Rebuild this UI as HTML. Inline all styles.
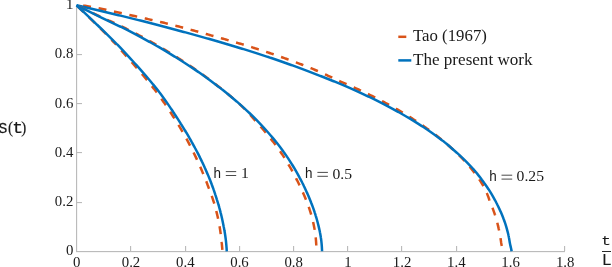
<!DOCTYPE html>
<html><head><meta charset="utf-8">
<style>
html,body{margin:0;padding:0;background:#fff;}
body{width:612px;height:267px;overflow:hidden;position:relative;}
svg{position:absolute;left:0;top:0;transform:translateZ(0);will-change:transform;}
text{font-family:"Liberation Serif",serif;fill:#1a1a1a;}
.tk{font-size:14.8px;fill:#262626;}
.sf{font-family:"Liberation Sans",sans-serif;font-size:14.5px;}
.mf{font-family:"Liberation Mono",monospace;}
.dg{font-size:14.8px;}
.lg{font-size:16px;}
</style></head><body>
<svg width="612" height="267" viewBox="0 0 612 267">
<g fill="#bbbbbb">
<rect x="76" y="5" width="1.15" height="247"/>
<rect x="76" y="251" width="489" height="1.15"/>
<rect x="77" y="5" width="5" height="1.1"/><rect x="77" y="54" width="5" height="1.1"/><rect x="77" y="103" width="5" height="1.1"/><rect x="77" y="152" width="5" height="1.1"/><rect x="77" y="202" width="5" height="1.1"/>
<rect x="130" y="246" width="1.15" height="5"/><rect x="185" y="246" width="1.15" height="5"/><rect x="239" y="246" width="1.15" height="5"/><rect x="293" y="246" width="1.15" height="5"/><rect x="347" y="246" width="1.15" height="5"/><rect x="401" y="246" width="1.15" height="5"/><rect x="456" y="246" width="1.15" height="5"/><rect x="510" y="246" width="1.15" height="5"/><rect x="564" y="246" width="1.15" height="5"/>
</g>
<g fill="none" stroke-width="2.5" stroke-linejoin="round">
<path d="M76.50,5.30 L77.73,5.34 L78.97,5.39 L80.20,5.44 L81.43,5.52 L82.67,5.60 L83.90,5.71 L85.14,5.85 L86.37,6.01 L87.60,6.20 L88.84,6.40 L90.07,6.61 L91.30,6.82 L92.54,7.04 L93.77,7.27 L95.00,7.50 L96.24,7.74 L97.47,7.98 L98.70,8.23 L99.94,8.48 L101.17,8.74 L102.41,8.99 L103.64,9.26 L104.87,9.52 L106.11,9.79 L107.34,10.06 L108.57,10.33 L109.81,10.61 L111.04,10.89 L112.27,11.16 L113.51,11.44 L114.74,11.72 L115.98,11.99 L117.21,12.27 L118.44,12.54 L119.68,12.81 L120.91,13.08 L122.14,13.35 L123.38,13.62 L124.61,13.89 L125.84,14.16 L127.08,14.43 L128.31,14.70 L129.54,14.97 L130.78,15.24 L132.01,15.51 L133.25,15.78 L134.48,16.06 L135.71,16.33 L136.95,16.60 L138.18,16.88 L139.41,17.15 L140.65,17.43 L141.88,17.70 L143.11,17.98 L144.35,18.26 L145.58,18.54 L146.82,18.82 L148.05,19.10 L149.28,19.38 L150.52,19.66 L151.75,19.95 L152.98,20.23 L154.22,20.52 L155.45,20.80 L156.68,21.09 L157.92,21.37 L159.15,21.66 L160.38,21.95 L161.62,22.25 L162.85,22.55 L164.09,22.84 L165.32,23.15 L166.55,23.45 L167.79,23.76 L169.02,24.06 L170.25,24.37 L171.49,24.68 L172.72,24.99 L173.95,25.30 L175.19,25.62 L176.42,25.93 L177.66,26.25 L178.89,26.57 L180.12,26.90 L181.36,27.23 L182.59,27.55 L183.82,27.88 L185.06,28.21 L186.29,28.54 L187.52,28.88 L188.76,29.21 L189.99,29.54 L191.22,29.88 L192.46,30.22 L193.69,30.55 L194.93,30.89 L196.16,31.23 L197.39,31.57 L198.63,31.91 L199.86,32.25 L201.09,32.59 L202.33,32.93 L203.56,33.28 L204.79,33.62 L206.03,33.97 L207.26,34.31 L208.50,34.66 L209.73,35.00 L210.96,35.35 L212.20,35.69 L213.43,36.04 L214.66,36.38 L215.90,36.73 L217.13,37.08 L218.36,37.42 L219.60,37.77 L220.83,38.12 L222.06,38.47 L223.30,38.81 L224.53,39.16 L225.77,39.51 L227.00,39.87 L228.23,40.22 L229.47,40.57 L230.70,40.92 L231.93,41.28 L233.17,41.64 L234.40,41.99 L235.63,42.35 L236.87,42.71 L238.10,43.08 L239.34,43.44 L240.57,43.81 L241.80,44.17 L243.04,44.54 L244.27,44.91 L245.50,45.29 L246.74,45.66 L247.97,46.04 L249.20,46.42 L250.44,46.80 L251.67,47.18 L252.91,47.57 L254.14,47.96 L255.37,48.35 L256.61,48.75 L257.84,49.14 L259.07,49.54 L260.31,49.94 L261.54,50.34 L262.77,50.75 L264.01,51.15 L265.24,51.56 L266.47,51.97 L267.71,52.38 L268.94,52.79 L270.18,53.20 L271.41,53.62 L272.64,54.04 L273.88,54.46 L275.11,54.88 L276.34,55.31 L277.58,55.74 L278.81,56.17 L280.04,56.60 L281.28,57.03 L282.51,57.47 L283.75,57.90 L284.98,58.34 L286.21,58.78 L287.45,59.23 L288.68,59.67 L289.91,60.12 L291.15,60.57 L292.38,61.02 L293.61,61.48 L294.85,61.93 L296.08,62.40 L297.31,62.86 L298.55,63.33 L299.78,63.80 L301.02,64.28 L302.25,64.76 L303.48,65.24 L304.72,65.73 L305.95,66.21 L307.18,66.71 L308.42,67.20 L309.65,67.70 L310.88,68.20 L312.12,68.70 L313.35,69.21 L314.59,69.72 L315.82,70.24 L317.05,70.77 L318.29,71.31 L319.52,71.86 L320.75,72.41 L321.99,72.97 L323.22,73.53 L324.45,74.09 L325.69,74.66 L326.92,75.22 L328.15,75.78 L329.39,76.34 L330.62,76.91 L331.86,77.48 L333.09,78.06 L334.32,78.64 L335.56,79.23 L336.79,79.81 L338.02,80.39 L339.26,80.96 L340.49,81.52 L341.72,82.07 L342.96,82.61 L344.19,83.14 L345.43,83.68 L346.66,84.21 L347.89,84.75 L349.13,85.29 L350.36,85.84 L351.59,86.39 L352.83,86.94 L354.06,87.49 L355.29,88.05 L356.53,88.62 L357.76,89.18 L358.99,89.75 L360.23,90.32 L361.46,90.90 L362.70,91.48 L363.93,92.06 L365.16,92.64 L366.40,93.23 L367.63,93.83 L368.86,94.42 L370.10,95.03 L371.33,95.63 L372.56,96.24 L373.80,96.86 L375.03,97.48 L376.27,98.11 L377.50,98.74 L378.73,99.38 L379.97,100.02 L381.20,100.66 L382.43,101.31 L383.67,101.97 L384.90,102.63 L386.13,103.29 L387.37,103.96 L388.60,104.63 L389.83,105.30 L391.07,105.98 L392.30,106.67 L393.54,107.36 L394.77,108.06 L396.00,108.76 L397.24,109.46 L398.47,110.17 L399.70,110.89 L400.94,111.61 L402.17,112.34 L403.40,113.08 L404.64,113.82 L405.87,114.56 L407.11,115.32 L408.34,116.08 L409.57,116.85 L410.81,117.62 L412.04,118.41 L413.27,119.20 L414.51,120.00 L415.74,120.82 L416.97,121.64 L418.21,122.46 L419.44,123.30 L420.67,124.15 L421.91,125.00 L423.14,125.86 L424.38,126.72 L425.61,127.60 L426.84,128.48 L428.08,129.36 L429.31,130.26 L430.54,131.16 L431.78,132.07 L433.01,132.99 L434.24,133.92 L435.48,134.86 L436.71,135.81 L437.95,136.77 L439.18,137.74 L440.41,138.72 L441.65,139.71 L442.88,140.71 L444.11,141.75 L445.35,142.81 L445.94,143.34 L446.52,143.83 L447.09,144.32 L447.66,144.82 L448.22,145.31 L448.78,145.80 L449.34,146.29 L449.89,146.79 L450.44,147.28 L450.98,147.77 L451.53,148.27 L452.07,148.76 L452.61,149.25 L453.16,149.74 L453.70,150.24 L454.24,150.73 L454.78,151.22 L455.31,151.72 L455.84,152.21 L456.37,152.70 L456.89,153.20 L457.41,153.69 L457.93,154.18 L458.44,154.67 L458.95,155.17 L459.45,155.66 L459.95,156.15 L460.45,156.65 L460.95,157.14 L461.44,157.63 L461.93,158.13 L462.41,158.62 L462.89,159.11 L463.36,159.60 L463.82,160.10 L464.28,160.59 L464.73,161.08 L465.18,161.58 L465.63,162.07 L466.06,162.56 L466.50,163.06 L466.93,163.55 L467.36,164.04 L467.78,164.53 L468.20,165.03 L468.62,165.52 L469.04,166.01 L469.45,166.51 L469.86,167.00 L470.27,167.49 L470.67,167.99 L471.08,168.48 L471.48,168.97 L471.88,169.46 L472.28,169.96 L472.68,170.45 L473.08,170.94 L473.47,171.44 L473.85,171.93 L474.24,172.42 L474.61,172.92 L474.99,173.41 L475.36,173.90 L475.72,174.39 L476.08,174.89 L476.44,175.38 L476.80,175.87 L477.15,176.37 L477.50,176.86 L477.85,177.35 L478.19,177.85 L478.53,178.34 L478.87,178.83 L479.20,179.32 L479.54,179.82 L479.87,180.31 L480.20,180.80 L480.52,181.30 L480.85,181.79 L481.16,182.28 L481.47,182.77 L481.78,183.27 L482.08,183.76 L482.37,184.25 L482.66,184.75 L482.94,185.24 L483.22,185.73 L483.49,186.23 L483.76,186.72 L484.02,187.21 L484.28,187.70 L484.53,188.20 L484.78,188.69 L485.02,189.18 L485.26,189.68 L485.49,190.17 L485.72,190.66 L485.95,191.16 L486.17,191.65 L486.38,192.14 L486.60,192.63 L486.81,193.13 L487.01,193.62 L487.21,194.11 L487.41,194.61 L487.61,195.10 L487.81,195.59 L488.00,196.09 L488.19,196.58 L488.38,197.07 L488.57,197.56 L488.74,198.06 L488.90,198.55 L489.06,199.04 L489.22,199.54 L489.39,200.03 L489.57,200.52 L489.76,201.02 L489.95,201.51 L490.15,202.00 L490.35,202.49 L490.54,202.99 L490.74,203.48 L490.94,203.97 L491.13,204.47 L491.33,204.96 L491.52,205.45 L491.72,205.95 L491.91,206.44 L492.10,206.93 L492.30,207.42 L492.49,207.92 L492.68,208.41 L492.86,208.90 L493.05,209.40 L493.24,209.89 L493.42,210.38 L493.60,210.88 L493.78,211.37 L493.96,211.86 L494.14,212.35 L494.32,212.85 L494.49,213.34 L494.66,213.83 L494.82,214.33 L494.99,214.82 L495.15,215.31 L495.31,215.81 L495.47,216.30 L495.62,216.79 L495.77,217.28 L495.92,217.78 L496.07,218.27 L496.21,218.76 L496.35,219.26 L496.49,219.75 L496.63,220.24 L496.76,220.73 L496.90,221.23 L497.03,221.72 L497.16,222.21 L497.28,222.71 L497.41,223.20 L497.53,223.69 L497.65,224.19 L497.77,224.68 L497.88,225.17 L498.00,225.66 L498.11,226.16 L498.23,226.65 L498.34,227.14 L498.45,227.64 L498.56,228.13 L498.67,228.62 L498.77,229.12 L498.88,229.61 L498.98,230.10 L499.09,230.59 L499.19,231.09 L499.30,231.58 L499.40,232.07 L499.50,232.57 L499.60,233.06 L499.70,233.55 L499.80,234.05 L499.89,234.54 L499.98,235.03 L500.07,235.52 L500.16,236.02 L500.25,236.51 L500.34,237.00 L500.42,237.50 L500.50,237.99 L500.57,238.48 L500.65,238.98 L500.72,239.47 L500.79,239.96 L500.86,240.45 L500.92,240.95 L500.98,241.44 L501.05,241.93 L501.12,242.43 L501.20,242.92 L501.28,243.41 L501.37,243.91 L501.46,244.40 L501.55,244.89 L501.64,245.38 L501.73,245.88 L501.83,246.37 L501.93,246.86 L502.02,247.36 L502.12,247.85 L502.22,248.34 L502.31,248.84 L502.40,249.33 L502.50,249.82 L502.59,250.31 L502.67,250.81 L502.76,251.30" stroke="#D95319" stroke-dasharray="8 7.75" stroke-dashoffset="9.2"/>
<path d="M76.50,5.30 L78.67,5.79 L80.83,6.29 L82.98,6.78 L85.13,7.27 L87.26,7.76 L89.40,8.26 L91.52,8.75 L93.64,9.24 L95.75,9.74 L97.85,10.23 L99.94,10.72 L102.03,11.22 L104.11,11.71 L106.19,12.20 L108.25,12.69 L110.31,13.19 L112.37,13.68 L114.41,14.17 L116.45,14.67 L118.49,15.16 L120.51,15.65 L122.53,16.15 L124.54,16.64 L126.55,17.13 L128.55,17.62 L130.54,18.12 L132.52,18.61 L134.50,19.10 L136.47,19.60 L138.44,20.09 L140.40,20.58 L142.35,21.08 L144.30,21.57 L146.24,22.06 L148.17,22.55 L150.09,23.05 L152.01,23.54 L153.93,24.03 L155.84,24.53 L157.74,25.02 L159.63,25.51 L161.52,26.01 L163.40,26.50 L165.28,26.99 L167.15,27.48 L169.01,27.98 L170.87,28.47 L172.72,28.96 L174.57,29.46 L176.41,29.95 L178.24,30.44 L180.07,30.94 L181.89,31.43 L183.71,31.92 L185.53,32.41 L187.33,32.91 L189.14,33.40 L190.93,33.89 L192.72,34.39 L194.51,34.88 L196.29,35.37 L198.06,35.87 L199.83,36.36 L201.59,36.85 L203.35,37.34 L205.10,37.84 L206.84,38.33 L208.58,38.82 L210.31,39.32 L212.04,39.81 L213.76,40.30 L215.47,40.79 L217.18,41.29 L218.88,41.78 L220.58,42.27 L222.27,42.77 L223.95,43.26 L225.63,43.75 L227.30,44.25 L228.96,44.74 L230.62,45.23 L232.27,45.72 L233.91,46.22 L235.55,46.71 L237.18,47.20 L238.80,47.70 L240.42,48.19 L242.03,48.68 L243.63,49.18 L245.23,49.67 L246.82,50.16 L248.40,50.65 L249.98,51.15 L251.55,51.64 L253.11,52.13 L254.66,52.63 L256.21,53.12 L257.75,53.61 L259.28,54.11 L260.80,54.60 L262.32,55.09 L263.83,55.58 L265.33,56.08 L266.83,56.57 L268.32,57.06 L269.79,57.56 L271.27,58.05 L272.73,58.54 L274.19,59.04 L275.64,59.53 L277.08,60.02 L278.51,60.51 L279.94,61.01 L281.36,61.50 L282.77,61.99 L284.18,62.49 L285.58,62.98 L286.98,63.47 L288.36,63.97 L289.75,64.46 L291.12,64.95 L292.49,65.44 L293.86,65.94 L295.21,66.43 L296.57,66.92 L297.91,67.42 L299.25,67.91 L300.59,68.40 L301.92,68.90 L303.24,69.39 L304.56,69.88 L305.87,70.37 L307.18,70.87 L308.48,71.36 L309.78,71.85 L311.07,72.35 L312.35,72.84 L313.63,73.33 L314.91,73.83 L316.18,74.32 L317.45,74.81 L318.71,75.30 L319.97,75.80 L321.23,76.29 L322.48,76.78 L323.73,77.28 L324.98,77.77 L326.23,78.26 L327.47,78.75 L328.71,79.25 L329.95,79.74 L331.18,80.23 L332.40,80.73 L333.62,81.22 L334.84,81.71 L336.05,82.21 L337.26,82.70 L338.46,83.19 L339.65,83.68 L340.84,84.18 L342.03,84.67 L343.20,85.16 L344.37,85.66 L345.53,86.15 L346.69,86.64 L347.84,87.14 L348.98,87.63 L350.11,88.12 L351.23,88.61 L352.35,89.11 L353.45,89.60 L354.55,90.09 L355.64,90.59 L356.73,91.08 L357.81,91.57 L358.89,92.07 L359.96,92.56 L361.03,93.05 L362.09,93.54 L363.15,94.04 L364.20,94.53 L365.24,95.02 L366.29,95.52 L367.32,96.01 L368.36,96.50 L369.38,97.00 L370.40,97.49 L371.42,97.98 L372.43,98.47 L373.44,98.97 L374.45,99.46 L375.44,99.95 L376.44,100.45 L377.43,100.94 L378.41,101.43 L379.39,101.93 L380.36,102.42 L381.33,102.91 L382.30,103.40 L383.26,103.90 L384.21,104.39 L385.17,104.88 L386.11,105.38 L387.05,105.87 L387.99,106.36 L388.92,106.86 L389.85,107.35 L390.77,107.84 L391.69,108.33 L392.61,108.83 L393.52,109.32 L394.42,109.81 L395.32,110.31 L396.22,110.80 L397.11,111.29 L398.00,111.78 L398.88,112.28 L399.76,112.77 L400.63,113.26 L401.50,113.76 L402.37,114.25 L403.23,114.74 L404.08,115.24 L404.94,115.73 L405.78,116.22 L406.63,116.71 L407.46,117.21 L408.30,117.70 L409.13,118.19 L409.96,118.69 L410.78,119.18 L411.59,119.67 L412.41,120.17 L413.22,120.66 L414.02,121.15 L414.82,121.64 L415.62,122.14 L416.41,122.63 L417.20,123.12 L417.98,123.62 L418.76,124.11 L419.53,124.60 L420.31,125.10 L421.07,125.59 L421.84,126.08 L422.60,126.57 L423.35,127.07 L424.10,127.56 L424.85,128.05 L425.59,128.55 L426.33,129.04 L427.07,129.53 L427.80,130.03 L428.52,130.52 L429.25,131.01 L429.96,131.50 L430.68,132.00 L431.39,132.49 L432.10,132.98 L432.80,133.48 L433.50,133.97 L434.20,134.46 L434.89,134.96 L435.58,135.45 L436.26,135.94 L436.94,136.43 L437.62,136.93 L438.29,137.42 L438.96,137.91 L439.62,138.41 L440.28,138.90 L440.94,139.39 L441.59,139.89 L442.24,140.38 L442.88,140.87 L443.51,141.36 L444.13,141.86 L444.74,142.35 L445.35,142.84 L445.95,143.34 L446.54,143.83 L447.13,144.32 L447.71,144.82 L448.29,145.31 L448.86,145.80 L449.43,146.29 L450.00,146.79 L450.57,147.28 L451.13,147.77 L451.70,148.27 L452.26,148.76 L452.83,149.25 L453.39,149.74 L453.96,150.24 L454.52,150.73 L455.09,151.22 L455.65,151.72 L456.20,152.21 L456.76,152.70 L457.31,153.20 L457.85,153.69 L458.40,154.18 L458.94,154.67 L459.47,155.17 L460.01,155.66 L460.54,156.15 L461.07,156.65 L461.59,157.14 L462.12,157.63 L462.64,158.13 L463.15,158.62 L463.66,159.11 L464.17,159.60 L464.68,160.10 L465.18,160.59 L465.68,161.08 L466.18,161.58 L466.67,162.07 L467.16,162.56 L467.64,163.06 L468.13,163.55 L468.60,164.04 L469.08,164.53 L469.55,165.03 L470.02,165.52 L470.49,166.01 L470.95,166.51 L471.41,167.00 L471.86,167.49 L472.31,167.99 L472.76,168.48 L473.20,168.97 L473.64,169.46 L474.08,169.96 L474.51,170.45 L474.94,170.94 L475.36,171.44 L475.77,171.93 L476.18,172.42 L476.58,172.92 L476.98,173.41 L477.37,173.90 L477.76,174.39 L478.14,174.89 L478.52,175.38 L478.90,175.87 L479.28,176.37 L479.65,176.86 L480.02,177.35 L480.39,177.85 L480.75,178.34 L481.12,178.83 L481.49,179.32 L481.85,179.82 L482.22,180.31 L482.58,180.80 L482.95,181.30 L483.31,181.79 L483.68,182.28 L484.04,182.77 L484.39,183.27 L484.75,183.76 L485.10,184.25 L485.46,184.75 L485.81,185.24 L486.15,185.73 L486.50,186.23 L486.84,186.72 L487.18,187.21 L487.51,187.70 L487.84,188.20 L488.17,188.69 L488.50,189.18 L488.82,189.68 L489.14,190.17 L489.46,190.66 L489.77,191.16 L490.08,191.65 L490.39,192.14 L490.69,192.63 L490.99,193.13 L491.29,193.62 L491.58,194.11 L491.88,194.61 L492.17,195.10 L492.45,195.59 L492.74,196.09 L493.02,196.58 L493.30,197.07 L493.57,197.56 L493.85,198.06 L494.12,198.55 L494.39,199.04 L494.66,199.54 L494.93,200.03 L495.20,200.52 L495.46,201.02 L495.72,201.51 L495.98,202.00 L496.24,202.49 L496.49,202.99 L496.75,203.48 L497.00,203.97 L497.24,204.47 L497.49,204.96 L497.73,205.45 L497.98,205.95 L498.21,206.44 L498.45,206.93 L498.69,207.42 L498.92,207.92 L499.15,208.41 L499.38,208.90 L499.61,209.40 L499.83,209.89 L500.06,210.38 L500.28,210.88 L500.50,211.37 L500.71,211.86 L500.93,212.35 L501.14,212.85 L501.35,213.34 L501.56,213.83 L501.77,214.33 L501.97,214.82 L502.18,215.31 L502.38,215.81 L502.58,216.30 L502.77,216.79 L502.97,217.28 L503.16,217.78 L503.35,218.27 L503.54,218.76 L503.72,219.26 L503.91,219.75 L504.09,220.24 L504.26,220.73 L504.44,221.23 L504.61,221.72 L504.78,222.21 L504.95,222.71 L505.12,223.20 L505.28,223.69 L505.44,224.19 L505.60,224.68 L505.75,225.17 L505.91,225.66 L506.06,226.16 L506.21,226.65 L506.35,227.14 L506.50,227.64 L506.64,228.13 L506.78,228.62 L506.92,229.12 L507.05,229.61 L507.19,230.10 L507.32,230.59 L507.45,231.09 L507.58,231.58 L507.70,232.07 L507.83,232.57 L507.95,233.06 L508.06,233.55 L508.18,234.05 L508.29,234.54 L508.40,235.03 L508.51,235.52 L508.61,236.02 L508.72,236.51 L508.82,237.00 L508.91,237.50 L509.01,237.99 L509.10,238.48 L509.19,238.98 L509.27,239.47 L509.36,239.96 L509.44,240.45 L509.52,240.95 L509.60,241.44 L509.68,241.93 L509.77,242.43 L509.86,242.92 L509.96,243.41 L510.06,243.91 L510.16,244.40 L510.26,244.89 L510.37,245.38 L510.48,245.88 L510.59,246.37 L510.70,246.86 L510.81,247.36 L510.92,247.85 L511.03,248.34 L511.14,248.84 L511.25,249.33 L511.36,249.82 L511.46,250.31 L511.56,250.81 L511.66,251.30" stroke="#0072BD"/>
<path d="M76.50,5.30 L77.03,5.55 L77.56,5.81 L78.09,6.06 L78.62,6.32 L79.15,6.57 L79.68,6.82 L80.21,7.08 L80.74,7.33 L81.27,7.58 L81.80,7.83 L82.33,8.09 L82.86,8.34 L83.39,8.59 L83.92,8.84 L84.45,9.09 L84.98,9.35 L85.51,9.60 L86.04,9.85 L86.56,10.10 L87.09,10.35 L87.62,10.60 L88.15,10.85 L88.68,11.10 L89.21,11.35 L89.74,11.60 L90.27,11.85 L90.80,12.10 L91.33,12.35 L91.86,12.60 L92.39,12.85 L92.92,13.10 L93.45,13.36 L93.98,13.61 L94.51,13.86 L95.04,14.11 L95.57,14.36 L96.10,14.61 L96.63,14.86 L97.16,15.11 L97.69,15.36 L98.22,15.61 L98.75,15.86 L99.28,16.11 L99.81,16.36 L100.34,16.61 L100.87,16.85 L101.40,17.10 L101.93,17.35 L102.46,17.59 L102.99,17.84 L103.52,18.09 L104.05,18.33 L104.58,18.58 L105.11,18.82 L105.63,19.06 L106.16,19.31 L106.69,19.55 L107.22,19.79 L107.75,20.04 L108.28,20.28 L108.81,20.52 L109.34,20.77 L109.87,21.01 L110.40,21.25 L110.93,21.50 L111.46,21.74 L111.99,21.98 L112.52,22.23 L113.05,22.47 L113.58,22.72 L114.11,22.96 L114.64,23.21 L115.17,23.45 L115.70,23.70 L116.23,23.94 L116.76,24.19 L117.29,24.44 L117.82,24.68 L118.35,24.93 L118.88,25.18 L119.41,25.43 L119.94,25.68 L120.47,25.93 L121.00,26.18 L121.53,26.43 L122.06,26.68 L122.59,26.94 L123.12,27.19 L123.65,27.45 L124.18,27.70 L124.71,27.96 L125.23,28.22 L125.76,28.48 L126.29,28.74 L126.82,29.00 L127.35,29.26 L127.88,29.53 L128.41,29.79 L128.94,30.06 L129.47,30.33 L130.00,30.60 L130.53,30.87 L131.06,31.14 L131.59,31.41 L132.12,31.68 L132.65,31.95 L133.18,32.23 L133.71,32.50 L134.24,32.77 L134.77,33.05 L135.30,33.32 L135.83,33.60 L136.36,33.88 L136.89,34.16 L137.42,34.43 L137.95,34.71 L138.48,34.99 L139.01,35.27 L139.54,35.55 L140.07,35.84 L140.60,36.12 L141.13,36.40 L141.66,36.68 L142.19,36.97 L142.72,37.25 L143.25,37.54 L143.78,37.83 L144.30,38.11 L144.83,38.40 L145.36,38.69 L145.89,38.98 L146.42,39.27 L146.95,39.56 L147.48,39.85 L148.01,40.14 L148.54,40.43 L149.07,40.72 L149.60,41.01 L150.13,41.31 L150.66,41.60 L151.19,41.90 L151.72,42.19 L152.25,42.49 L152.78,42.79 L153.31,43.09 L153.84,43.38 L154.37,43.68 L154.90,43.98 L155.43,44.28 L155.96,44.58 L156.49,44.89 L157.02,45.19 L157.55,45.49 L158.08,45.80 L158.61,46.10 L159.14,46.41 L159.67,46.72 L160.20,47.03 L160.73,47.34 L161.26,47.65 L161.79,47.96 L162.32,48.27 L162.85,48.59 L163.37,48.90 L163.90,49.22 L164.43,49.54 L164.96,49.86 L165.49,50.18 L166.02,50.50 L166.55,50.82 L167.08,51.14 L167.61,51.46 L168.14,51.79 L168.67,52.11 L169.20,52.44 L169.73,52.77 L170.26,53.09 L170.79,53.42 L171.32,53.75 L171.85,54.08 L172.38,54.41 L172.91,54.75 L173.44,55.08 L173.97,55.41 L174.50,55.75 L175.03,56.08 L175.56,56.42 L176.09,56.75 L176.62,57.09 L177.15,57.42 L177.68,57.76 L178.21,58.10 L178.74,58.44 L179.27,58.78 L179.80,59.12 L180.33,59.46 L180.86,59.80 L181.39,60.14 L181.92,60.48 L182.45,60.82 L182.97,61.16 L183.50,61.51 L184.03,61.85 L184.56,62.20 L185.09,62.55 L185.62,62.89 L186.15,63.24 L186.68,63.59 L187.21,63.94 L187.74,64.29 L188.27,64.65 L188.80,65.00 L189.33,65.36 L189.86,65.71 L190.39,66.07 L190.92,66.43 L191.45,66.78 L191.98,67.14 L192.51,67.50 L193.04,67.87 L193.57,68.23 L194.10,68.59 L194.63,68.96 L195.16,69.32 L195.69,69.69 L196.22,70.06 L196.75,70.43 L197.28,70.80 L197.81,71.17 L198.34,71.54 L198.87,71.91 L199.40,72.29 L199.93,72.66 L200.46,73.04 L200.99,73.42 L201.52,73.79 L202.04,74.17 L202.57,74.55 L203.10,74.94 L203.63,75.32 L204.16,75.70 L204.69,76.09 L205.22,76.47 L205.75,76.86 L206.28,77.25 L206.81,77.64 L207.34,78.03 L207.87,78.42 L208.40,78.81 L208.93,79.20 L209.46,79.60 L209.99,79.99 L210.52,80.39 L211.05,80.79 L211.58,81.19 L212.11,81.59 L212.64,81.99 L213.17,82.39 L213.70,82.79 L214.23,83.20 L214.76,83.60 L215.29,84.01 L215.82,84.42 L216.35,84.83 L216.88,85.24 L217.41,85.65 L217.94,86.06 L218.47,86.48 L219.00,86.89 L219.53,87.31 L220.06,87.72 L220.59,88.14 L221.12,88.56 L221.64,88.98 L222.17,89.41 L222.70,89.83 L223.23,90.25 L223.76,90.68 L224.29,91.11 L224.82,91.53 L225.35,91.96 L225.88,92.39 L226.41,92.83 L226.94,93.26 L227.47,93.69 L228.00,94.13 L228.53,94.57 L229.06,95.01 L229.59,95.45 L230.12,95.89 L230.65,96.33 L231.18,96.78 L231.71,97.23 L232.24,97.67 L232.77,98.12 L233.30,98.58 L233.83,99.03 L234.36,99.48 L234.89,99.94 L235.46,100.45 L236.02,100.94 L236.59,101.43 L237.14,101.93 L237.69,102.42 L238.24,102.91 L238.79,103.40 L239.33,103.90 L239.86,104.39 L240.39,104.88 L240.92,105.38 L241.44,105.87 L241.97,106.36 L242.48,106.86 L243.00,107.35 L243.51,107.84 L244.01,108.33 L244.52,108.83 L245.02,109.32 L245.52,109.81 L246.01,110.31 L246.50,110.80 L246.98,111.29 L247.44,111.78 L247.90,112.28 L248.36,112.77 L248.81,113.26 L249.25,113.76 L249.69,114.25 L250.12,114.74 L250.55,115.24 L250.98,115.73 L251.41,116.22 L251.83,116.71 L252.25,117.21 L252.68,117.70 L253.10,118.19 L253.53,118.69 L253.96,119.18 L254.39,119.67 L254.83,120.17 L255.27,120.66 L255.71,121.15 L256.16,121.64 L256.60,122.14 L257.04,122.63 L257.48,123.12 L257.92,123.62 L258.36,124.11 L258.80,124.60 L259.23,125.10 L259.67,125.59 L260.10,126.08 L260.53,126.57 L260.97,127.07 L261.39,127.56 L261.82,128.05 L262.25,128.55 L262.67,129.04 L263.10,129.53 L263.52,130.03 L263.94,130.52 L264.36,131.01 L264.78,131.50 L265.20,132.00 L265.61,132.49 L266.02,132.98 L266.44,133.48 L266.85,133.97 L267.25,134.46 L267.66,134.96 L268.07,135.45 L268.47,135.94 L268.87,136.43 L269.27,136.93 L269.67,137.42 L270.07,137.91 L270.46,138.41 L270.86,138.90 L271.25,139.39 L271.64,139.89 L272.03,140.38 L272.41,140.87 L272.80,141.36 L273.18,141.86 L273.56,142.35 L273.94,142.84 L274.31,143.34 L274.69,143.83 L275.06,144.32 L275.43,144.82 L275.80,145.31 L276.17,145.80 L276.53,146.29 L276.89,146.79 L277.25,147.28 L277.61,147.77 L277.97,148.27 L278.32,148.76 L278.67,149.25 L279.02,149.74 L279.37,150.24 L279.72,150.73 L280.06,151.22 L280.40,151.72 L280.74,152.21 L281.07,152.70 L281.41,153.20 L281.74,153.69 L282.07,154.18 L282.39,154.67 L282.72,155.17 L283.04,155.66 L283.36,156.15 L283.68,156.65 L284.00,157.14 L284.31,157.63 L284.62,158.13 L284.93,158.62 L285.24,159.11 L285.55,159.60 L285.85,160.10 L286.16,160.59 L286.46,161.08 L286.76,161.58 L287.06,162.07 L287.35,162.56 L287.65,163.06 L287.94,163.55 L288.23,164.04 L288.52,164.53 L288.81,165.03 L289.09,165.52 L289.38,166.01 L289.66,166.51 L289.94,167.00 L290.22,167.49 L290.50,167.99 L290.78,168.48 L291.06,168.97 L291.33,169.46 L291.61,169.96 L291.88,170.45 L292.15,170.94 L292.42,171.44 L292.69,171.93 L292.95,172.42 L293.22,172.92 L293.49,173.41 L293.75,173.90 L294.01,174.39 L294.27,174.89 L294.53,175.38 L294.79,175.87 L295.05,176.37 L295.31,176.86 L295.57,177.35 L295.82,177.85 L296.08,178.34 L296.33,178.83 L296.59,179.32 L296.84,179.82 L297.09,180.31 L297.34,180.80 L297.59,181.30 L297.84,181.79 L298.08,182.28 L298.33,182.77 L298.57,183.27 L298.81,183.76 L299.05,184.25 L299.29,184.75 L299.53,185.24 L299.77,185.73 L300.01,186.23 L300.24,186.72 L300.48,187.21 L300.71,187.70 L300.94,188.20 L301.17,188.69 L301.40,189.18 L301.63,189.68 L301.85,190.17 L302.07,190.66 L302.30,191.16 L302.52,191.65 L302.74,192.14 L302.96,192.63 L303.17,193.13 L303.39,193.62 L303.61,194.11 L303.82,194.61 L304.03,195.10 L304.24,195.59 L304.45,196.09 L304.66,196.58 L304.87,197.07 L305.07,197.56 L305.28,198.06 L305.48,198.55 L305.69,199.04 L305.89,199.54 L306.09,200.03 L306.29,200.52 L306.49,201.02 L306.69,201.51 L306.88,202.00 L307.08,202.49 L307.27,202.99 L307.46,203.48 L307.64,203.97 L307.83,204.47 L308.01,204.96 L308.19,205.45 L308.37,205.95 L308.55,206.44 L308.72,206.93 L308.89,207.42 L309.06,207.92 L309.23,208.41 L309.40,208.90 L309.56,209.40 L309.73,209.89 L309.89,210.38 L310.04,210.88 L310.20,211.37 L310.36,211.86 L310.51,212.35 L310.66,212.85 L310.81,213.34 L310.95,213.83 L311.10,214.33 L311.24,214.82 L311.38,215.31 L311.52,215.81 L311.66,216.30 L311.79,216.79 L311.93,217.28 L312.06,217.78 L312.19,218.27 L312.31,218.76 L312.44,219.26 L312.56,219.75 L312.68,220.24 L312.80,220.73 L312.92,221.23 L313.04,221.72 L313.15,222.21 L313.27,222.71 L313.38,223.20 L313.48,223.69 L313.59,224.19 L313.69,224.68 L313.80,225.17 L313.90,225.66 L314.00,226.16 L314.09,226.65 L314.19,227.14 L314.28,227.64 L314.37,228.13 L314.46,228.62 L314.54,229.12 L314.63,229.61 L314.71,230.10 L314.79,230.59 L314.87,231.09 L314.94,231.58 L315.02,232.07 L315.09,232.57 L315.16,233.06 L315.23,233.55 L315.29,234.05 L315.36,234.54 L315.42,235.03 L315.48,235.52 L315.54,236.02 L315.59,236.51 L315.65,237.00 L315.70,237.50 L315.75,237.99 L315.80,238.48 L315.84,238.98 L315.89,239.47 L315.93,239.96 L315.97,240.45 L316.01,240.95 L316.05,241.44 L316.08,241.93 L316.11,242.43 L316.14,242.92 L316.17,243.41 L316.20,243.91 L316.22,244.40 L316.24,244.89 L316.26,245.38 L316.28,245.88 L316.30,246.37 L316.31,246.86 L316.32,247.36 L316.33,247.85 L316.34,248.34 L316.35,248.84 L316.35,249.33 L316.36,249.82 L316.36,250.31 L316.36,250.81 L316.35,251.30" stroke="#D95319" stroke-dasharray="8 7.7" stroke-dashoffset="13.2"/>
<path d="M76.50,5.30 L77.48,5.79 L78.46,6.29 L79.44,6.78 L80.42,7.27 L81.41,7.76 L82.40,8.26 L83.39,8.75 L84.38,9.24 L85.37,9.74 L86.37,10.23 L87.36,10.72 L88.36,11.22 L89.36,11.71 L90.36,12.20 L91.36,12.69 L92.36,13.19 L93.37,13.68 L94.37,14.17 L95.37,14.67 L96.38,15.16 L97.38,15.65 L98.39,16.15 L99.40,16.64 L100.41,17.13 L101.43,17.62 L102.46,18.12 L103.48,18.61 L104.52,19.10 L105.55,19.60 L106.59,20.09 L107.63,20.58 L108.67,21.08 L109.72,21.57 L110.76,22.06 L111.80,22.55 L112.85,23.05 L113.89,23.54 L114.93,24.03 L115.97,24.53 L117.00,25.02 L118.03,25.51 L119.06,26.01 L120.09,26.50 L121.11,26.99 L122.12,27.48 L123.13,27.98 L124.13,28.47 L125.13,28.96 L126.12,29.46 L127.10,29.95 L128.08,30.44 L129.04,30.94 L130.00,31.43 L130.95,31.92 L131.90,32.41 L132.85,32.91 L133.80,33.40 L134.74,33.89 L135.67,34.39 L136.61,34.88 L137.54,35.37 L138.47,35.87 L139.39,36.36 L140.31,36.85 L141.23,37.34 L142.15,37.84 L143.06,38.33 L143.97,38.82 L144.87,39.32 L145.78,39.81 L146.68,40.30 L147.57,40.79 L148.47,41.29 L149.36,41.78 L150.25,42.27 L151.14,42.77 L152.02,43.26 L152.90,43.75 L153.78,44.25 L154.66,44.74 L155.53,45.23 L156.40,45.72 L157.27,46.22 L158.14,46.71 L159.00,47.20 L159.85,47.70 L160.70,48.19 L161.55,48.68 L162.39,49.18 L163.23,49.67 L164.07,50.16 L164.90,50.65 L165.73,51.15 L166.55,51.64 L167.37,52.13 L168.19,52.63 L169.00,53.12 L169.82,53.61 L170.62,54.11 L171.43,54.60 L172.23,55.09 L173.03,55.58 L173.83,56.08 L174.63,56.57 L175.42,57.06 L176.21,57.56 L177.00,58.05 L177.79,58.54 L178.58,59.04 L179.36,59.53 L180.15,60.02 L180.93,60.51 L181.71,61.01 L182.49,61.50 L183.27,61.99 L184.04,62.49 L184.81,62.98 L185.58,63.47 L186.34,63.97 L187.10,64.46 L187.86,64.95 L188.61,65.44 L189.36,65.94 L190.11,66.43 L190.86,66.92 L191.60,67.42 L192.34,67.91 L193.08,68.40 L193.81,68.90 L194.54,69.39 L195.27,69.88 L195.99,70.37 L196.72,70.87 L197.43,71.36 L198.15,71.85 L198.86,72.35 L199.57,72.84 L200.28,73.33 L200.99,73.83 L201.69,74.32 L202.39,74.81 L203.09,75.30 L203.78,75.80 L204.47,76.29 L205.16,76.78 L205.85,77.28 L206.53,77.77 L207.21,78.26 L207.89,78.75 L208.57,79.25 L209.24,79.74 L209.91,80.23 L210.58,80.73 L211.25,81.22 L211.91,81.71 L212.57,82.21 L213.23,82.70 L213.88,83.19 L214.54,83.68 L215.19,84.18 L215.84,84.67 L216.49,85.16 L217.13,85.66 L217.77,86.15 L218.42,86.64 L219.05,87.14 L219.69,87.63 L220.32,88.12 L220.96,88.61 L221.59,89.11 L222.21,89.60 L222.84,90.09 L223.46,90.59 L224.09,91.08 L224.70,91.57 L225.32,92.07 L225.94,92.56 L226.55,93.05 L227.16,93.54 L227.77,94.04 L228.38,94.53 L228.98,95.02 L229.58,95.52 L230.18,96.01 L230.78,96.50 L231.37,97.00 L231.96,97.49 L232.55,97.98 L233.14,98.47 L233.72,98.97 L234.31,99.46 L234.89,99.95 L235.47,100.45 L236.04,100.94 L236.62,101.43 L237.19,101.93 L237.76,102.42 L238.32,102.91 L238.89,103.40 L239.45,103.90 L240.01,104.39 L240.56,104.88 L241.12,105.38 L241.67,105.87 L242.22,106.36 L242.77,106.86 L243.31,107.35 L243.86,107.84 L244.40,108.33 L244.94,108.83 L245.47,109.32 L246.01,109.81 L246.54,110.31 L247.07,110.80 L247.59,111.29 L248.12,111.78 L248.64,112.28 L249.16,112.77 L249.67,113.26 L250.19,113.76 L250.70,114.25 L251.21,114.74 L251.72,115.24 L252.22,115.73 L252.73,116.22 L253.23,116.71 L253.72,117.21 L254.22,117.70 L254.71,118.19 L255.20,118.69 L255.69,119.18 L256.18,119.67 L256.66,120.17 L257.14,120.66 L257.62,121.15 L258.10,121.64 L258.57,122.14 L259.05,122.63 L259.52,123.12 L259.99,123.62 L260.45,124.11 L260.92,124.60 L261.38,125.10 L261.84,125.59 L262.30,126.08 L262.76,126.57 L263.22,127.07 L263.67,127.56 L264.12,128.05 L264.57,128.55 L265.02,129.04 L265.47,129.53 L265.91,130.03 L266.36,130.52 L266.80,131.01 L267.24,131.50 L267.67,132.00 L268.11,132.49 L268.54,132.98 L268.97,133.48 L269.40,133.97 L269.83,134.46 L270.26,134.96 L270.68,135.45 L271.10,135.94 L271.52,136.43 L271.94,136.93 L272.35,137.42 L272.77,137.91 L273.18,138.41 L273.59,138.90 L274.00,139.39 L274.40,139.89 L274.80,140.38 L275.21,140.87 L275.61,141.36 L276.00,141.86 L276.40,142.35 L276.79,142.84 L277.18,143.34 L277.57,143.83 L277.96,144.32 L278.35,144.82 L278.73,145.31 L279.11,145.80 L279.49,146.29 L279.87,146.79 L280.24,147.28 L280.62,147.77 L280.99,148.27 L281.35,148.76 L281.72,149.25 L282.09,149.74 L282.45,150.24 L282.81,150.73 L283.17,151.22 L283.52,151.72 L283.88,152.21 L284.23,152.70 L284.58,153.20 L284.92,153.69 L285.27,154.18 L285.61,154.67 L285.95,155.17 L286.29,155.66 L286.63,156.15 L286.96,156.65 L287.30,157.14 L287.63,157.63 L287.96,158.13 L288.29,158.62 L288.61,159.11 L288.93,159.60 L289.26,160.10 L289.58,160.59 L289.89,161.08 L290.21,161.58 L290.52,162.07 L290.84,162.56 L291.15,163.06 L291.46,163.55 L291.76,164.04 L292.07,164.53 L292.37,165.03 L292.68,165.52 L292.98,166.01 L293.27,166.51 L293.57,167.00 L293.87,167.49 L294.16,167.99 L294.45,168.48 L294.75,168.97 L295.03,169.46 L295.32,169.96 L295.61,170.45 L295.89,170.94 L296.18,171.44 L296.46,171.93 L296.74,172.42 L297.02,172.92 L297.30,173.41 L297.57,173.90 L297.85,174.39 L298.12,174.89 L298.39,175.38 L298.66,175.87 L298.93,176.37 L299.20,176.86 L299.47,177.35 L299.73,177.85 L300.00,178.34 L300.26,178.83 L300.52,179.32 L300.78,179.82 L301.04,180.31 L301.30,180.80 L301.55,181.30 L301.80,181.79 L302.06,182.28 L302.31,182.77 L302.55,183.27 L302.80,183.76 L303.04,184.25 L303.29,184.75 L303.53,185.24 L303.77,185.73 L304.00,186.23 L304.24,186.72 L304.48,187.21 L304.71,187.70 L304.94,188.20 L305.17,188.69 L305.40,189.18 L305.63,189.68 L305.85,190.17 L306.07,190.66 L306.30,191.16 L306.52,191.65 L306.74,192.14 L306.96,192.63 L307.17,193.13 L307.39,193.62 L307.61,194.11 L307.82,194.61 L308.03,195.10 L308.24,195.59 L308.45,196.09 L308.66,196.58 L308.87,197.07 L309.07,197.56 L309.28,198.06 L309.48,198.55 L309.69,199.04 L309.89,199.54 L310.09,200.03 L310.29,200.52 L310.49,201.02 L310.69,201.51 L310.88,202.00 L311.08,202.49 L311.27,202.99 L311.47,203.48 L311.66,203.97 L311.85,204.47 L312.03,204.96 L312.22,205.45 L312.41,205.95 L312.59,206.44 L312.77,206.93 L312.95,207.42 L313.13,207.92 L313.31,208.41 L313.49,208.90 L313.66,209.40 L313.83,209.89 L314.00,210.38 L314.17,210.88 L314.34,211.37 L314.51,211.86 L314.67,212.35 L314.83,212.85 L315.00,213.34 L315.15,213.83 L315.31,214.33 L315.47,214.82 L315.62,215.31 L315.77,215.81 L315.93,216.30 L316.07,216.79 L316.22,217.28 L316.37,217.78 L316.51,218.27 L316.65,218.76 L316.79,219.26 L316.93,219.75 L317.06,220.24 L317.20,220.73 L317.33,221.23 L317.46,221.72 L317.59,222.21 L317.72,222.71 L317.85,223.20 L317.97,223.69 L318.10,224.19 L318.22,224.68 L318.34,225.17 L318.46,225.66 L318.58,226.16 L318.70,226.65 L318.82,227.14 L318.93,227.64 L319.04,228.13 L319.16,228.62 L319.27,229.12 L319.37,229.61 L319.48,230.10 L319.58,230.59 L319.69,231.09 L319.79,231.58 L319.89,232.07 L319.98,232.57 L320.08,233.06 L320.17,233.55 L320.26,234.05 L320.35,234.54 L320.44,235.03 L320.53,235.52 L320.61,236.02 L320.69,236.51 L320.77,237.00 L320.84,237.50 L320.92,237.99 L320.99,238.48 L321.06,238.98 L321.12,239.47 L321.19,239.96 L321.25,240.45 L321.31,240.95 L321.36,241.44 L321.42,241.93 L321.47,242.43 L321.52,242.92 L321.57,243.41 L321.61,243.91 L321.66,244.40 L321.70,244.89 L321.74,245.38 L321.78,245.88 L321.81,246.37 L321.85,246.86 L321.88,247.36 L321.91,247.85 L321.93,248.34 L321.96,248.84 L321.98,249.33 L322.00,249.82 L322.02,250.31 L322.04,250.81 L322.05,251.30" stroke="#0072BD"/>
<path d="M76.50,5.30 L76.62,5.42 L76.74,5.53 L76.86,5.65 L76.98,5.76 L77.10,5.88 L77.22,6.00 L77.34,6.11 L77.46,6.23 L77.59,6.34 L77.71,6.46 L77.83,6.58 L77.95,6.69 L78.07,6.81 L78.19,6.92 L78.31,7.04 L78.43,7.16 L78.55,7.27 L78.67,7.39 L78.79,7.50 L78.91,7.62 L79.03,7.74 L79.15,7.85 L79.27,7.97 L79.39,8.08 L79.51,8.20 L79.64,8.32 L79.76,8.43 L79.88,8.55 L80.00,8.67 L80.12,8.78 L80.24,8.90 L80.36,9.01 L80.48,9.13 L80.60,9.25 L80.72,9.36 L80.84,9.48 L80.96,9.59 L81.08,9.71 L81.20,9.83 L81.32,9.94 L81.44,10.06 L81.56,10.17 L81.69,10.29 L81.81,10.41 L81.93,10.52 L82.05,10.64 L82.17,10.76 L82.29,10.87 L82.41,10.99 L82.53,11.10 L82.65,11.22 L82.77,11.34 L82.89,11.45 L83.01,11.57 L83.13,11.68 L83.25,11.80 L83.37,11.92 L83.49,12.03 L83.61,12.15 L83.74,12.27 L83.86,12.38 L83.98,12.50 L84.10,12.61 L84.22,12.73 L84.34,12.85 L84.46,12.96 L84.58,13.08 L84.70,13.20 L84.82,13.31 L84.94,13.43 L85.06,13.54 L85.18,13.66 L85.30,13.78 L85.42,13.89 L85.54,14.01 L85.67,14.13 L85.79,14.24 L85.91,14.36 L86.03,14.48 L86.15,14.59 L86.27,14.71 L86.39,14.82 L86.51,14.94 L86.63,15.06 L86.75,15.17 L86.87,15.29 L86.99,15.41 L87.11,15.52 L87.23,15.64 L87.35,15.76 L87.47,15.87 L87.59,15.99 L87.72,16.11 L87.84,16.22 L87.96,16.34 L88.08,16.46 L88.20,16.57 L88.32,16.69 L88.44,16.81 L88.56,16.92 L88.68,17.04 L88.80,17.16 L88.92,17.27 L89.04,17.39 L89.16,17.51 L89.28,17.62 L89.40,17.74 L89.52,17.86 L89.64,17.97 L89.77,18.09 L89.89,18.21 L90.01,18.32 L90.13,18.44 L90.25,18.56 L90.37,18.67 L90.49,18.79 L90.61,18.91 L90.73,19.02 L90.85,19.14 L90.97,19.26 L91.09,19.37 L91.21,19.49 L91.33,19.61 L91.45,19.72 L91.57,19.84 L91.69,19.96 L91.82,20.07 L91.94,20.19 L92.06,20.31 L92.18,20.43 L92.30,20.54 L92.42,20.66 L92.54,20.78 L92.66,20.89 L92.78,21.01 L92.90,21.13 L93.02,21.25 L93.14,21.36 L93.26,21.48 L93.38,21.60 L93.50,21.71 L93.62,21.83 L93.74,21.95 L93.87,22.07 L93.99,22.18 L94.11,22.30 L94.23,22.42 L94.35,22.53 L94.47,22.65 L94.59,22.77 L94.71,22.89 L94.83,23.00 L94.95,23.12 L95.07,23.24 L95.19,23.36 L95.31,23.47 L95.43,23.59 L95.55,23.71 L95.67,23.83 L95.79,23.94 L95.92,24.06 L96.04,24.18 L96.16,24.30 L96.28,24.41 L96.40,24.53 L96.52,24.65 L96.64,24.77 L96.76,24.88 L96.88,25.00 L97.00,25.12 L97.12,25.24 L97.24,25.35 L97.36,25.47 L97.48,25.59 L97.60,25.71 L97.72,25.82 L97.84,25.94 L97.97,26.06 L98.09,26.18 L98.21,26.30 L98.33,26.41 L98.45,26.53 L98.57,26.65 L98.69,26.77 L98.81,26.88 L98.93,27.00 L99.05,27.12 L99.17,27.24 L99.29,27.36 L99.41,27.47 L99.53,27.59 L99.65,27.71 L99.77,27.83 L99.89,27.95 L100.02,28.07 L100.14,28.18 L100.26,28.30 L100.38,28.42 L100.50,28.54 L100.62,28.66 L100.74,28.77 L100.86,28.89 L100.98,29.01 L101.10,29.13 L101.22,29.25 L101.34,29.37 L101.46,29.49 L101.58,29.60 L101.70,29.72 L101.82,29.84 L101.94,29.96 L102.07,30.08 L102.19,30.20 L102.31,30.32 L102.43,30.43 L102.55,30.55 L102.67,30.67 L102.79,30.79 L102.91,30.91 L103.03,31.03 L103.15,31.15 L103.27,31.27 L103.39,31.39 L103.51,31.51 L103.63,31.63 L103.75,31.74 L103.87,31.86 L104.00,31.98 L104.12,32.10 L104.24,32.22 L104.36,32.34 L104.48,32.46 L104.60,32.58 L104.72,32.70 L104.84,32.82 L104.96,32.94 L105.08,33.05 L105.20,33.17 L105.32,33.29 L105.44,33.41 L105.56,33.53 L105.68,33.65 L105.80,33.77 L105.92,33.89 L106.05,34.01 L106.17,34.13 L106.29,34.25 L106.41,34.37 L106.53,34.48 L106.65,34.60 L106.77,34.72 L106.89,34.84 L107.01,34.96 L107.13,35.08 L107.25,35.20 L107.37,35.32 L107.49,35.44 L107.61,35.56 L107.73,35.68 L107.85,35.80 L107.97,35.92 L108.10,36.04 L108.22,36.16 L108.34,36.28 L108.46,36.39 L108.58,36.51 L108.70,36.63 L108.82,36.75 L108.94,36.87 L109.06,36.99 L109.18,37.11 L109.30,37.23 L109.42,37.35 L109.54,37.47 L109.66,37.59 L109.78,37.71 L109.90,37.83 L110.02,37.95 L110.15,38.07 L110.27,38.19 L110.39,38.31 L110.51,38.43 L110.63,38.55 L110.75,38.67 L110.87,38.79 L110.99,38.91 L111.11,39.03 L111.23,39.15 L111.35,39.27 L111.47,39.39 L111.59,39.52 L111.71,39.64 L111.83,39.76 L111.95,39.88 L112.07,40.00 L112.20,40.12 L112.32,40.24 L112.44,40.36 L112.56,40.48 L112.04,40.30 L112.50,40.79 L112.97,41.29 L113.43,41.78 L113.89,42.27 L114.35,42.77 L114.81,43.26 L115.27,43.75 L115.73,44.25 L116.18,44.74 L116.63,45.23 L117.09,45.72 L117.54,46.22 L117.98,46.71 L118.43,47.20 L118.88,47.70 L119.32,48.19 L119.77,48.68 L120.21,49.18 L120.65,49.67 L121.09,50.16 L121.53,50.65 L121.97,51.15 L122.41,51.64 L122.85,52.13 L123.28,52.63 L123.72,53.12 L124.16,53.61 L124.59,54.11 L125.03,54.60 L125.46,55.09 L125.89,55.58 L126.33,56.08 L126.76,56.57 L127.19,57.06 L127.63,57.56 L128.06,58.05 L128.49,58.54 L128.93,59.04 L129.36,59.53 L129.79,60.02 L130.22,60.51 L130.66,61.01 L131.09,61.50 L131.52,61.99 L131.95,62.49 L132.38,62.98 L132.82,63.47 L133.25,63.97 L133.68,64.46 L134.11,64.95 L134.54,65.44 L134.97,65.94 L135.39,66.43 L135.82,66.92 L136.25,67.42 L136.68,67.91 L137.10,68.40 L137.53,68.90 L137.96,69.39 L138.38,69.88 L138.80,70.37 L139.23,70.87 L139.65,71.36 L140.07,71.85 L140.49,72.35 L140.91,72.84 L141.33,73.33 L141.75,73.83 L142.17,74.32 L142.59,74.81 L143.00,75.30 L143.42,75.80 L143.83,76.29 L144.25,76.78 L144.66,77.28 L145.07,77.77 L145.48,78.26 L145.89,78.75 L146.30,79.25 L146.71,79.74 L147.11,80.23 L147.52,80.73 L147.92,81.22 L148.33,81.71 L148.73,82.21 L149.13,82.70 L149.53,83.19 L149.92,83.68 L150.32,84.18 L150.72,84.67 L151.11,85.16 L151.50,85.66 L151.89,86.15 L152.28,86.64 L152.67,87.14 L153.06,87.63 L153.44,88.12 L153.83,88.61 L154.21,89.11 L154.59,89.60 L154.97,90.09 L155.35,90.59 L155.72,91.08 L156.10,91.57 L156.47,92.07 L156.84,92.56 L157.21,93.05 L157.58,93.54 L157.94,94.04 L158.31,94.53 L158.67,95.02 L159.03,95.52 L159.39,96.01 L159.74,96.50 L160.10,97.00 L160.45,97.49 L160.81,97.98 L161.16,98.47 L161.51,98.97 L161.86,99.46 L162.20,99.95 L162.55,100.45 L162.89,100.94 L163.23,101.43 L163.58,101.93 L163.92,102.42 L164.26,102.91 L164.59,103.40 L164.93,103.90 L165.26,104.39 L165.60,104.88 L165.93,105.38 L166.26,105.87 L166.59,106.36 L166.92,106.86 L167.25,107.35 L167.58,107.84 L167.91,108.33 L168.23,108.83 L168.56,109.32 L168.88,109.81 L169.21,110.31 L169.53,110.80 L169.85,111.29 L170.17,111.78 L170.49,112.28 L170.81,112.77 L171.13,113.26 L171.45,113.76 L171.76,114.25 L172.08,114.74 L172.40,115.24 L172.71,115.73 L173.03,116.22 L173.34,116.71 L173.66,117.21 L173.97,117.70 L174.28,118.19 L174.60,118.69 L174.91,119.18 L175.22,119.67 L175.53,120.17 L175.85,120.66 L176.16,121.15 L176.47,121.64 L176.78,122.14 L177.08,122.63 L177.39,123.12 L177.69,123.62 L178.00,124.11 L178.30,124.60 L178.60,125.10 L178.90,125.59 L179.20,126.08 L179.50,126.57 L179.79,127.07 L180.09,127.56 L180.38,128.05 L180.67,128.55 L180.96,129.04 L181.25,129.53 L181.54,130.03 L181.83,130.52 L182.11,131.01 L182.40,131.50 L182.68,132.00 L182.97,132.49 L183.25,132.98 L183.53,133.48 L183.81,133.97 L184.09,134.46 L184.36,134.96 L184.64,135.45 L184.91,135.94 L185.19,136.43 L185.46,136.93 L185.73,137.42 L186.00,137.91 L186.27,138.41 L186.54,138.90 L186.81,139.39 L187.08,139.89 L187.34,140.38 L187.61,140.87 L187.87,141.36 L188.13,141.86 L188.39,142.35 L188.65,142.84 L188.91,143.34 L189.17,143.83 L189.43,144.32 L189.69,144.82 L189.94,145.31 L190.20,145.80 L190.45,146.29 L190.70,146.79 L190.96,147.28 L191.21,147.77 L191.46,148.27 L191.71,148.76 L191.95,149.25 L192.20,149.74 L192.45,150.24 L192.69,150.73 L192.94,151.22 L193.18,151.72 L193.43,152.21 L193.67,152.70 L193.91,153.20 L194.15,153.69 L194.39,154.18 L194.63,154.67 L194.86,155.17 L195.10,155.66 L195.34,156.15 L195.57,156.65 L195.81,157.14 L196.04,157.63 L196.27,158.13 L196.50,158.62 L196.73,159.11 L196.96,159.60 L197.19,160.10 L197.42,160.59 L197.64,161.08 L197.87,161.58 L198.10,162.07 L198.32,162.56 L198.55,163.06 L198.77,163.55 L198.99,164.04 L199.21,164.53 L199.43,165.03 L199.65,165.52 L199.87,166.01 L200.09,166.51 L200.31,167.00 L200.53,167.49 L200.75,167.99 L200.96,168.48 L201.18,168.97 L201.39,169.46 L201.61,169.96 L201.82,170.45 L202.03,170.94 L202.24,171.44 L202.46,171.93 L202.67,172.42 L202.87,172.92 L203.08,173.41 L203.29,173.90 L203.49,174.39 L203.70,174.89 L203.90,175.38 L204.10,175.87 L204.30,176.37 L204.50,176.86 L204.70,177.35 L204.89,177.85 L205.09,178.34 L205.28,178.83 L205.48,179.32 L205.67,179.82 L205.86,180.31 L206.05,180.80 L206.24,181.30 L206.43,181.79 L206.62,182.28 L206.81,182.77 L206.99,183.27 L207.18,183.76 L207.36,184.25 L207.54,184.75 L207.73,185.24 L207.91,185.73 L208.10,186.23 L208.28,186.72 L208.47,187.21 L208.66,187.70 L208.84,188.20 L209.03,188.69 L209.22,189.18 L209.41,189.68 L209.59,190.17 L209.78,190.66 L209.97,191.16 L210.16,191.65 L210.34,192.14 L210.53,192.63 L210.72,193.13 L210.90,193.62 L211.08,194.11 L211.26,194.61 L211.44,195.10 L211.62,195.59 L211.80,196.09 L211.98,196.58 L212.15,197.07 L212.32,197.56 L212.49,198.06 L212.66,198.55 L212.82,199.04 L212.99,199.54 L213.14,200.03 L213.30,200.52 L213.46,201.02 L213.61,201.51 L213.76,202.00 L213.91,202.49 L214.05,202.99 L214.20,203.48 L214.35,203.97 L214.49,204.47 L214.63,204.96 L214.77,205.45 L214.91,205.95 L215.05,206.44 L215.19,206.93 L215.32,207.42 L215.46,207.92 L215.59,208.41 L215.72,208.90 L215.85,209.40 L215.98,209.89 L216.11,210.38 L216.24,210.88 L216.36,211.37 L216.49,211.86 L216.61,212.35 L216.73,212.85 L216.85,213.34 L216.97,213.83 L217.09,214.33 L217.21,214.82 L217.32,215.31 L217.44,215.81 L217.55,216.30 L217.66,216.79 L217.77,217.28 L217.88,217.78 L217.99,218.27 L218.10,218.76 L218.20,219.26 L218.30,219.75 L218.41,220.24 L218.51,220.73 L218.61,221.23 L218.71,221.72 L218.80,222.21 L218.90,222.71 L218.99,223.20 L219.09,223.69 L219.18,224.19 L219.27,224.68 L219.35,225.17 L219.44,225.66 L219.52,226.16 L219.61,226.65 L219.69,227.14 L219.77,227.64 L219.85,228.13 L219.93,228.62 L220.00,229.12 L220.08,229.61 L220.15,230.10 L220.23,230.59 L220.30,231.09 L220.37,231.58 L220.44,232.07 L220.51,232.57 L220.57,233.06 L220.64,233.55 L220.71,234.05 L220.77,234.54 L220.83,235.03 L220.90,235.52 L220.96,236.02 L221.02,236.51 L221.08,237.00 L221.14,237.50 L221.20,237.99 L221.25,238.48 L221.31,238.98 L221.36,239.47 L221.42,239.96 L221.47,240.45 L221.53,240.95 L221.58,241.44 L221.63,241.93 L221.68,242.43 L221.74,242.92 L221.79,243.41 L221.84,243.91 L221.88,244.40 L221.93,244.89 L221.98,245.38 L222.03,245.88 L222.07,246.37 L222.11,246.86 L222.16,247.36 L222.20,247.85 L222.24,248.34 L222.28,248.84 L222.32,249.33 L222.35,249.82 L222.39,250.31 L222.42,250.81 L222.46,251.30" stroke="#D95319" stroke-dasharray="8 7.7" stroke-dashoffset="13.9"/>
<path d="M76.50,5.30 L77.03,5.79 L77.55,6.29 L78.08,6.78 L78.60,7.27 L79.13,7.76 L79.66,8.26 L80.18,8.75 L80.71,9.24 L81.23,9.74 L81.76,10.23 L82.28,10.72 L82.81,11.22 L83.33,11.71 L83.86,12.20 L84.38,12.69 L84.90,13.19 L85.43,13.68 L85.95,14.17 L86.47,14.67 L87.00,15.16 L87.52,15.65 L88.04,16.15 L88.56,16.64 L89.09,17.13 L89.61,17.62 L90.13,18.12 L90.65,18.61 L91.17,19.10 L91.69,19.60 L92.21,20.09 L92.73,20.58 L93.24,21.08 L93.76,21.57 L94.28,22.06 L94.80,22.55 L95.31,23.05 L95.83,23.54 L96.34,24.03 L96.86,24.53 L97.37,25.02 L97.88,25.51 L98.40,26.01 L98.91,26.50 L99.42,26.99 L99.93,27.48 L100.44,27.98 L100.95,28.47 L101.46,28.96 L101.97,29.46 L102.48,29.95 L102.98,30.44 L103.49,30.94 L104.00,31.43 L104.50,31.92 L105.01,32.41 L105.52,32.91 L106.02,33.40 L106.53,33.89 L107.03,34.39 L107.54,34.88 L108.04,35.37 L108.55,35.87 L109.05,36.36 L109.55,36.85 L110.06,37.34 L110.56,37.84 L111.06,38.33 L111.56,38.82 L112.06,39.32 L112.56,39.81 L113.05,40.30 L113.55,40.79 L114.04,41.29 L114.54,41.78 L115.03,42.27 L115.52,42.77 L116.01,43.26 L116.49,43.75 L116.98,44.25 L117.46,44.74 L117.95,45.23 L118.42,45.72 L118.90,46.22 L119.38,46.71 L119.85,47.20 L120.33,47.70 L120.80,48.19 L121.27,48.68 L121.74,49.18 L122.21,49.67 L122.67,50.16 L123.14,50.65 L123.60,51.15 L124.06,51.64 L124.53,52.13 L124.99,52.63 L125.45,53.12 L125.91,53.61 L126.36,54.11 L126.82,54.60 L127.28,55.09 L127.73,55.58 L128.18,56.08 L128.64,56.57 L129.09,57.06 L129.54,57.56 L129.99,58.05 L130.44,58.54 L130.89,59.04 L131.34,59.53 L131.79,60.02 L132.24,60.51 L132.69,61.01 L133.14,61.50 L133.58,61.99 L134.03,62.49 L134.48,62.98 L134.92,63.47 L135.37,63.97 L135.81,64.46 L136.26,64.95 L136.70,65.44 L137.14,65.94 L137.59,66.43 L138.03,66.92 L138.47,67.42 L138.91,67.91 L139.35,68.40 L139.79,68.90 L140.23,69.39 L140.66,69.88 L141.10,70.37 L141.54,70.87 L141.97,71.36 L142.41,71.85 L142.84,72.35 L143.27,72.84 L143.70,73.33 L144.13,73.83 L144.56,74.32 L144.99,74.81 L145.42,75.30 L145.85,75.80 L146.27,76.29 L146.69,76.78 L147.12,77.28 L147.54,77.77 L147.96,78.26 L148.38,78.75 L148.80,79.25 L149.22,79.74 L149.63,80.23 L150.05,80.73 L150.46,81.22 L150.87,81.71 L151.28,82.21 L151.69,82.70 L152.10,83.19 L152.51,83.68 L152.91,84.18 L153.32,84.67 L153.72,85.16 L154.12,85.66 L154.52,86.15 L154.92,86.64 L155.31,87.14 L155.71,87.63 L156.10,88.12 L156.49,88.61 L156.88,89.11 L157.27,89.60 L157.66,90.09 L158.04,90.59 L158.42,91.08 L158.81,91.57 L159.18,92.07 L159.56,92.56 L159.94,93.05 L160.31,93.54 L160.68,94.04 L161.05,94.53 L161.42,95.02 L161.79,95.52 L162.15,96.01 L162.51,96.50 L162.87,97.00 L163.23,97.49 L163.59,97.98 L163.95,98.47 L164.30,98.97 L164.65,99.46 L165.00,99.95 L165.35,100.45 L165.70,100.94 L166.05,101.43 L166.40,101.93 L166.74,102.42 L167.08,102.91 L167.43,103.40 L167.77,103.90 L168.11,104.39 L168.44,104.88 L168.78,105.38 L169.12,105.87 L169.45,106.36 L169.79,106.86 L170.12,107.35 L170.45,107.84 L170.78,108.33 L171.11,108.83 L171.44,109.32 L171.77,109.81 L172.10,110.31 L172.43,110.80 L172.75,111.29 L173.08,111.78 L173.40,112.28 L173.73,112.77 L174.05,113.26 L174.37,113.76 L174.70,114.25 L175.02,114.74 L175.34,115.24 L175.66,115.73 L175.98,116.22 L176.30,116.71 L176.62,117.21 L176.94,117.70 L177.26,118.19 L177.58,118.69 L177.90,119.18 L178.22,119.67 L178.54,120.17 L178.86,120.66 L179.17,121.15 L179.49,121.64 L179.81,122.14 L180.12,122.63 L180.44,123.12 L180.75,123.62 L181.07,124.11 L181.38,124.60 L181.69,125.10 L182.00,125.59 L182.31,126.08 L182.61,126.57 L182.92,127.07 L183.23,127.56 L183.53,128.05 L183.84,128.55 L184.14,129.04 L184.44,129.53 L184.74,130.03 L185.04,130.52 L185.34,131.01 L185.64,131.50 L185.93,132.00 L186.23,132.49 L186.52,132.98 L186.82,133.48 L187.11,133.97 L187.40,134.46 L187.69,134.96 L187.98,135.45 L188.27,135.94 L188.56,136.43 L188.85,136.93 L189.13,137.42 L189.42,137.91 L189.70,138.41 L189.99,138.90 L190.27,139.39 L190.55,139.89 L190.83,140.38 L191.11,140.87 L191.39,141.36 L191.66,141.86 L191.94,142.35 L192.22,142.84 L192.49,143.34 L192.76,143.83 L193.04,144.32 L193.31,144.82 L193.58,145.31 L193.85,145.80 L194.12,146.29 L194.39,146.79 L194.65,147.28 L194.92,147.77 L195.18,148.27 L195.45,148.76 L195.71,149.25 L195.97,149.74 L196.23,150.24 L196.49,150.73 L196.75,151.22 L197.01,151.72 L197.27,152.21 L197.52,152.70 L197.78,153.20 L198.03,153.69 L198.28,154.18 L198.53,154.67 L198.78,155.17 L199.03,155.66 L199.28,156.15 L199.53,156.65 L199.77,157.14 L200.02,157.63 L200.26,158.13 L200.51,158.62 L200.75,159.11 L200.99,159.60 L201.23,160.10 L201.47,160.59 L201.71,161.08 L201.94,161.58 L202.18,162.07 L202.41,162.56 L202.65,163.06 L202.88,163.55 L203.11,164.04 L203.34,164.53 L203.57,165.03 L203.80,165.52 L204.02,166.01 L204.25,166.51 L204.48,167.00 L204.70,167.49 L204.92,167.99 L205.15,168.48 L205.37,168.97 L205.59,169.46 L205.81,169.96 L206.02,170.45 L206.24,170.94 L206.46,171.44 L206.67,171.93 L206.89,172.42 L207.10,172.92 L207.31,173.41 L207.52,173.90 L207.73,174.39 L207.94,174.89 L208.15,175.38 L208.36,175.87 L208.56,176.37 L208.76,176.86 L208.96,177.35 L209.16,177.85 L209.36,178.34 L209.56,178.83 L209.76,179.32 L209.95,179.82 L210.15,180.31 L210.34,180.80 L210.53,181.30 L210.72,181.79 L210.91,182.28 L211.10,182.77 L211.29,183.27 L211.48,183.76 L211.66,184.25 L211.84,184.75 L212.03,185.24 L212.21,185.73 L212.39,186.23 L212.57,186.72 L212.75,187.21 L212.92,187.70 L213.10,188.20 L213.28,188.69 L213.45,189.18 L213.62,189.68 L213.80,190.17 L213.97,190.66 L214.14,191.16 L214.31,191.65 L214.48,192.14 L214.64,192.63 L214.81,193.13 L214.98,193.62 L215.14,194.11 L215.30,194.61 L215.47,195.10 L215.63,195.59 L215.79,196.09 L215.95,196.58 L216.11,197.07 L216.27,197.56 L216.43,198.06 L216.58,198.55 L216.74,199.04 L216.89,199.54 L217.05,200.03 L217.20,200.52 L217.36,201.02 L217.51,201.51 L217.66,202.00 L217.81,202.49 L217.96,202.99 L218.10,203.48 L218.25,203.97 L218.39,204.47 L218.54,204.96 L218.68,205.45 L218.82,205.95 L218.96,206.44 L219.10,206.93 L219.24,207.42 L219.37,207.92 L219.51,208.41 L219.64,208.90 L219.78,209.40 L219.91,209.89 L220.04,210.38 L220.17,210.88 L220.30,211.37 L220.42,211.86 L220.55,212.35 L220.67,212.85 L220.80,213.34 L220.92,213.83 L221.04,214.33 L221.16,214.82 L221.28,215.31 L221.40,215.81 L221.51,216.30 L221.63,216.79 L221.74,217.28 L221.86,217.78 L221.97,218.27 L222.08,218.76 L222.19,219.26 L222.29,219.75 L222.40,220.24 L222.51,220.73 L222.61,221.23 L222.71,221.72 L222.82,222.21 L222.92,222.71 L223.02,223.20 L223.12,223.69 L223.22,224.19 L223.32,224.68 L223.42,225.17 L223.52,225.66 L223.61,226.16 L223.71,226.65 L223.80,227.14 L223.90,227.64 L223.99,228.13 L224.08,228.62 L224.17,229.12 L224.26,229.61 L224.35,230.10 L224.44,230.59 L224.52,231.09 L224.61,231.58 L224.69,232.07 L224.77,232.57 L224.85,233.06 L224.93,233.55 L225.01,234.05 L225.08,234.54 L225.16,235.03 L225.23,235.52 L225.30,236.02 L225.37,236.51 L225.44,237.00 L225.51,237.50 L225.57,237.99 L225.64,238.48 L225.70,238.98 L225.76,239.47 L225.82,239.96 L225.87,240.45 L225.93,240.95 L225.98,241.44 L226.03,241.93 L226.08,242.43 L226.13,242.92 L226.18,243.41 L226.23,243.91 L226.27,244.40 L226.32,244.89 L226.36,245.38 L226.40,245.88 L226.44,246.37 L226.48,246.86 L226.52,247.36 L226.56,247.85 L226.59,248.34 L226.62,248.84 L226.65,249.33 L226.68,249.82 L226.71,250.31 L226.73,250.81 L226.76,251.30" stroke="#0072BD"/>
<path d="M398.3,36.8H406.3" stroke="#D95319"/>
<path d="M398.3,60.4H411.3" stroke="#0072BD"/>
</g>
<!-- tick labels -->
<g class="tk" text-anchor="middle">
<text transform="translate(76.8,267.1) scale(1.0,1)">0</text>
<text transform="translate(131,267.1) scale(1.0,1)">0.2</text>
<text transform="translate(185.3,267.1) scale(1.0,1)">0.4</text>
<text transform="translate(239.5,267.1) scale(1.0,1)">0.6</text>
<text transform="translate(293.7,267.1) scale(1.0,1)">0.8</text>
<text transform="translate(347.9,267.1) scale(1.0,1)">1</text>
<text transform="translate(402.1,267.1) scale(1.0,1)">1.2</text>
<text transform="translate(456.3,267.1) scale(1.0,1)">1.4</text>
<text transform="translate(510.6,267.1) scale(1.0,1)">1.6</text>
<text transform="translate(565.2,267.1) scale(1.0,1)">1.8</text>
</g>
<g class="tk" text-anchor="end">
<text transform="translate(73.3,9.3) scale(1.0,1)">1</text>
<text transform="translate(73.3,58.3) scale(1.0,1)">0.8</text>
<text transform="translate(73.3,107.5) scale(1.0,1)">0.6</text>
<text transform="translate(73.3,156.8) scale(1.0,1)">0.4</text>
<text transform="translate(73.3,206.0) scale(1.0,1)">0.2</text>
<text transform="translate(73.3,255.2) scale(1.0,1)">0</text>
</g>
<!-- legend -->
<text class="lg" transform="translate(413,40.8) scale(1.05,1)">Tao (1967)</text>
<text class="lg" transform="translate(413,65.1) scale(1.068,1)">The present work</text>
<!-- curve labels -->
<g>
<text class="sf" transform="translate(213.6,177.9) scale(0.93,1)">h</text>
<path d="M225.8,171.6h10.4M225.8,175.5h10.4" stroke="#2a2a2a" stroke-width="0.85"/>
<text class="dg" transform="translate(241.1,177.9) scale(1.06,1)">1</text>
</g>
<g>
<text class="sf" transform="translate(305.0,178.3) scale(0.93,1)">h</text>
<path d="M317.4,172.4h10.5M317.4,176.3h10.5" stroke="#2a2a2a" stroke-width="0.85"/>
<text class="dg" transform="translate(332.4,178.6) scale(1.06,1)">0.5</text>
</g>
<g>
<text class="sf" transform="translate(489.3,180.9) scale(0.93,1)">h</text>
<path d="M501.5,175.2h10.7M501.5,179.1h10.7" stroke="#2a2a2a" stroke-width="0.85"/>
<text class="dg" transform="translate(516.6,181.2) scale(1.06,1)">0.25</text>
</g>
<!-- axis labels -->
<g stroke="#1a1a1a" stroke-width="0.25">
<text class="mf" style="font-size:15.5px" transform="translate(-1.6,132.9) scale(0.95,1)">S</text>
<text class="mf" style="font-size:16.5px" transform="translate(12.2,132.9) scale(1.1,1)">t</text>
</g>
<g stroke="#1a1a1a" stroke-width="0.12">
<text class="mf" style="font-size:14px" transform="translate(601.3,245.2) scale(1.15,0.95)">t</text>
<text class="mf" style="font-size:14.5px" transform="translate(601.8,265.4) scale(1.15,1.1)">L</text>
</g>
<g stroke="#1a1a1a" stroke-width="0.2">
<text style="font-size:17.7px" transform="translate(7.9,132.9) scale(0.85,1)">(</text>
<text style="font-size:17.7px" transform="translate(21.3,132.9) scale(0.85,1)">)</text>
</g>
<rect x="602" y="251" width="9" height="1" fill="#2a2a2a"/>
</svg>
</body></html>
